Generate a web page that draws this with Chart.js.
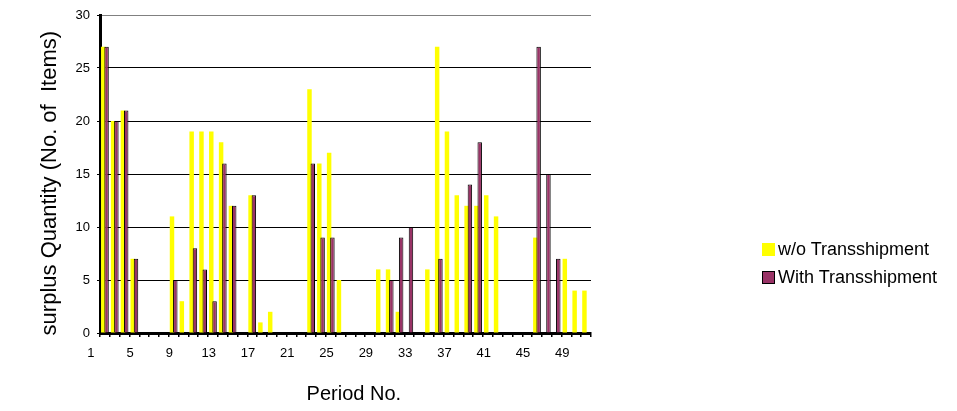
<!DOCTYPE html>
<html>
<head>
<meta charset="utf-8">
<script src="https://cdn.jsdelivr.net/npm/chart.js@4.4.1/dist/chart.umd.min.js"></script>
<style>
  html, body { margin: 0; padding: 0; background: #fff; }
  #wrap { position: relative; width: 957px; height: 411px; overflow: hidden; }
  #c { position: absolute; left: 0; top: 0; }
  #legend { position: absolute; left: 762px; top: 235px; font-family: "Liberation Sans", Arial, sans-serif; font-size: 18px; color: #000; }
  .row { height: 28px; display: flex; align-items: center; white-space: nowrap; }
  .box { width: 13px; height: 13px; margin-right: 3px; box-sizing: border-box; }
</style>
</head>
<body>
<div id="wrap">
  <canvas id="c" width="957" height="411"></canvas>
  <div id="legend"></div>
</div>
<script>
// Periods (categories)
const periods = [];
for (let p = 1; p <= 50; p++) periods.push(String(p));

// Series values
const withoutTransshipment = [27, 20, 21, 7, 0, 0, 0, 11, 3, 19,
                              19, 19, 18, 12, 0, 13, 1, 2, 0, 0,
                              0, 23, 16, 17, 5, 0, 0, 0, 6, 6,
                              2, 0, 0, 6, 27, 19, 13, 12, 12, 13,
                              11, 0, 0, 0, 9, 0, 0, 7, 4, 4];
const withTransshipment = [27, 20, 21, 7, 0, 0, 0, 5, 0, 8,
                           6, 3, 16, 12, 0, 13, 0, 0, 0, 0,
                           0, 16, 9, 9, 0, 0, 0, 0, 0, 5,
                           9, 10, 0, 0, 7, 0, 0, 14, 18, 0,
                           0, 0, 0, 0, 27, 15, 7, 0, 0, 0];

const seriesNames = ['w/o Transshipment', 'With Transshipment'];
const seriesColors = ['#FFFF00', '#993366'];
const seriesBorders = ['#FFFF00', '#000000'];
const yTicks = [0, 5, 10, 15, 20, 25, 30];

const FONT = '"Liberation Sans", Arial, sans-serif';

// draw yellow first, plum on top
const drawOrder = {
  id: 'drawOrder',
  beforeDatasetsDraw(chart) {
    for (let i = 0; i < chart.data.datasets.length; i++) {
      const meta = chart.getDatasetMeta(i);
      if (!meta.hidden) meta.controller.draw();
    }
    return false;
  }
};

// grey frame on top and right of the plot area
const plotFrame = {
  id: 'plotFrame',
  beforeDatasetsDraw(chart) {
    const {ctx, chartArea: a} = chart;
    ctx.save();
    ctx.strokeStyle = '#808080';
    ctx.lineWidth = 1.5;
    ctx.beginPath();
    ctx.moveTo(a.left, a.top);
    ctx.lineTo(a.right, a.top);
    ctx.lineTo(a.right, a.bottom);
    ctx.stroke();
    ctx.restore();
  }
};

const chart = new Chart(document.getElementById('c'), {
  type: 'bar',
  data: {
    labels: periods,
    datasets: [
      {
        label: seriesNames[0],
        data: withoutTransshipment,
        backgroundColor: seriesColors[0],
        borderColor: seriesBorders[0],
        borderWidth: 0
      },
      {
        label: seriesNames[1],
        data: withTransshipment,
        backgroundColor: seriesColors[1],
        borderColor: seriesBorders[1],
        borderWidth: 1
      }
    ]
  },
  options: {
    responsive: false,
    animation: false,
    devicePixelRatio: 1,
    layout: { padding: { top: 15, right: 366, bottom: 0, left: 0 } },
    datasets: {
      bar: { categoryPercentage: 0.67, barPercentage: 1.36 }
    },
    plugins: {
      legend: { display: false },
      tooltip: { enabled: false }
    },
    scales: {
      x: {
        z: 1,
        offset: true,
        grid: {
          display: true,
          drawOnChartArea: false,
          drawTicks: true,
          tickLength: 4,
          color: '#000',
          lineWidth: 1.5,
          offset: true
        },
        border: { display: true, color: '#000', width: 3 },
        ticks: {
          autoSkip: false,
          maxRotation: 0,
          minRotation: 0,
          labelOffset: -14,
          padding: 9,
          color: '#000',
          font: { family: FONT, size: 13 },
          callback: function (value, index) {
            return index % 4 === 0 ? periods[index] : '';
          }
        },
        title: {
          display: true,
          text: '   Period No.',
          color: '#000',
          font: { family: FONT, size: 20 },
          padding: { top: 0, bottom: 5 }
        },
        afterFit: (s) => { s.height = 78; }
      },
      y: {
        min: 0,
        max: 30,
        afterBuildTicks: (s) => { s.ticks = yTicks.map(v => ({ value: v })); },
        grid: {
          color: (ctx) => (ctx.tick && ctx.tick.value === 30) ? '#808080' : '#000',
          lineWidth: 1,
          tickLength: 3,
          tickColor: '#000',
          drawTicks: true
        },
        border: { display: true, color: '#000', width: 3 },
        ticks: {
          padding: 7,
          color: '#000',
          font: { family: FONT, size: 13 }
        },
        title: {
          display: true,
          text: 'surplus Quantity (No. of  Items)   ',
          color: '#000',
          font: { family: FONT, size: 22 },
          padding: { top: 37, bottom: 0 }
        },
        afterFit: (s) => { s.width = 100; }
      }
    }
  },
  plugins: [drawOrder, plotFrame]
});

// HTML legend built from the chart's datasets
const legendEl = document.getElementById('legend');
chart.data.datasets.forEach((ds) => {
  const row = document.createElement('div');
  row.className = 'row';
  const box = document.createElement('span');
  box.className = 'box';
  box.style.background = ds.backgroundColor;
  if (ds.borderWidth) box.style.border = '1px solid ' + ds.borderColor;
  const txt = document.createElement('span');
  txt.textContent = ds.label;
  row.appendChild(box);
  row.appendChild(txt);
  legendEl.appendChild(row);
});
</script>
</body>
</html>
